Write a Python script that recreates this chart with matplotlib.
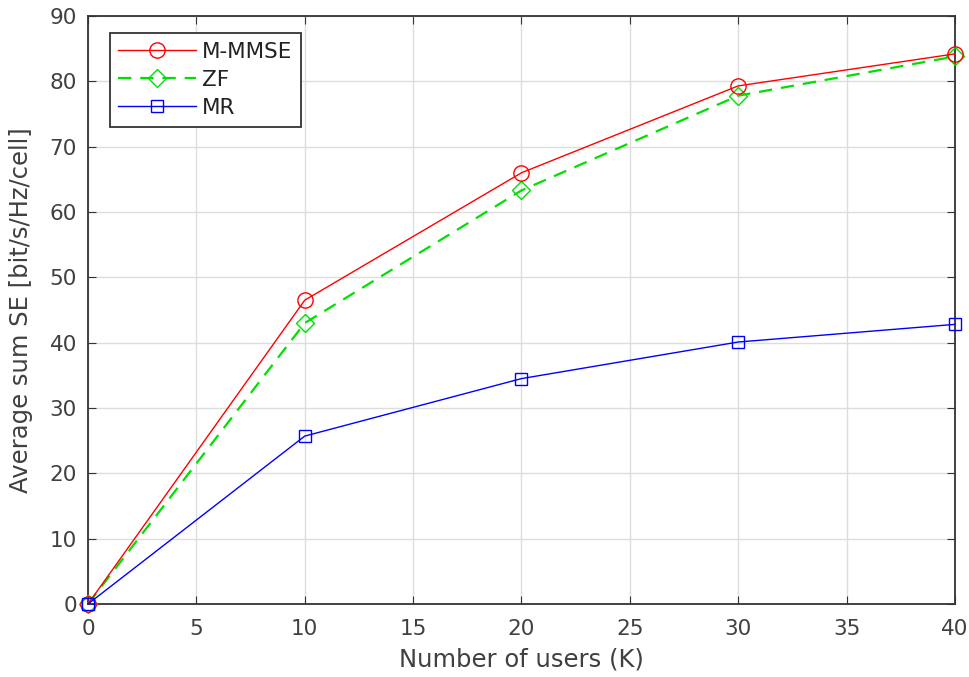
import numpy as np
import matplotlib
matplotlib.use('Agg')
import matplotlib.pyplot as plt

# data
users = [0, 10, 20, 30, 40]
se_mmse = [0, 46.5, 66.0, 79.3, 84.2]
se_zf = [0, 43.0, 63.3, 77.8, 83.8]
se_mr = [0, 25.7, 34.5, 40.1, 42.8]

plt.rcParams['font.family'] = ['DejaVu Sans']

fig = plt.figure(figsize=(9.69, 6.77), dpi=100)
ax = fig.add_axes([0.0908, 0.1078, 0.8947, 0.8686])

ax.plot(users, se_mmse, '-', color='#ff0000', lw=1.0, marker='o', ms=11,
        mfc='none', mec='#ff0000', label='M-MMSE', clip_on=False, zorder=4)
ax.plot(users, se_zf, '--', color='#00e000', lw=1.6, dashes=(6, 4), marker='D', ms=9,
        mfc='none', mec='#00e000', mew=1.0, label='ZF', clip_on=False, zorder=3)
ax.plot(users, se_mr, '-', color='#0000ff', lw=1.0, marker='s', ms=9,
        mfc='none', mec='#0000ff', label='MR', clip_on=False, zorder=5)

ax.set_xlim(0, 40)
ax.set_ylim(0, 90)
ax.set_xticks(np.arange(0, 41, 5))
ax.set_yticks(np.arange(0, 91, 10))
ax.grid(True, color='#dddddd', lw=1.0)
ax.set_axisbelow(True)
ax.tick_params(direction='in', top=True, right=True, labelsize=15.5, length=6,
               color='#333333', labelcolor='#404040')
ax.tick_params(axis='x', pad=11)
ax.tick_params(axis='y', pad=8)
for s in ax.spines.values():
    s.set_color('#333333')
    s.set_linewidth(1.3)

ax.set_xlabel('Number of users (K)', fontsize=17.5, color='#404040', labelpad=6)
ax.set_ylabel('Average sum SE [bit/s/Hz/cell]', fontsize=17.5, color='#404040', labelpad=12)

leg = ax.legend(loc='upper left', bbox_to_anchor=(0.025, 0.971), borderaxespad=0,
                fontsize=15.5, fancybox=False, edgecolor='#333333', framealpha=1,
                handlelength=3.6, borderpad=0.4, labelspacing=0.38, handletextpad=0.3)
leg.get_frame().set_linewidth(1.3)
for t in leg.get_texts():
    t.set_color('#222222')

fig.savefig('out.png', dpi=100)
